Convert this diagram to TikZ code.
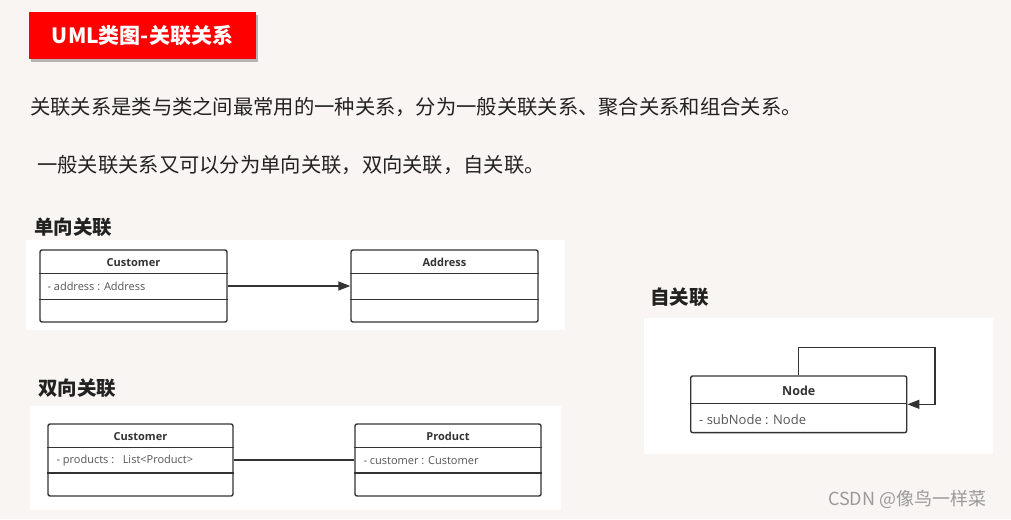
\documentclass[tikz,border=0pt]{standalone}
\usepackage{fontspec}
\setmainfont{Open Sans}
\newfontfamily\cjk{Noto Sans CJK SC}
\usetikzlibrary{arrows.meta,calc,shadows}
\definecolor{bg}{HTML}{F9F5F2}
\definecolor{linec}{HTML}{333333}
\definecolor{attrc}{HTML}{555555}
\definecolor{txtc}{HTML}{222222}
\definecolor{wm}{HTML}{9A9A9A}
\tikzset{
  panel/.style={fill=white, draw=none},
  classbox/.style={draw=linec, line width=1.4pt, rounded corners=2pt, fill=white, inner sep=0pt},
  divider/.style={draw=linec, line width=1.4pt},
  clsname/.style={font=\bfseries\fontsize{11}{13}\selectfont, text=linec, inner sep=0pt},
  attr/.style={font=\fontsize{11}{13}\selectfont, text=attrc, inner sep=0pt, anchor=west},
  bodytext/.style={font=\cjk\fontsize{20.3}{24}\selectfont, text=txtc, inner sep=0pt, anchor=west},
  heading/.style={font=\cjk\bfseries\fontsize{19.5}{23}\selectfont, text=txtc, inner sep=0pt, anchor=west},
  assoc/.style={draw=linec, line width=1.3pt},
  tip/.style={-{Triangle[length=12pt,width=9pt]}}
}
\begin{document}
\begin{tikzpicture}[x=1pt,y=-1pt]
\useasboundingbox (0,0) rectangle (1011,519);
\fill[bg] (0,0) rectangle (1011,519);

% title
\node[fill=red, minimum width=227pt, minimum height=47pt, inner sep=0pt,
      drop shadow={shadow xshift=2pt, shadow yshift=-3pt, opacity=0.45, fill=black!60}]
      (title) at (142.5,35.5) {};
\node[font=\cjk\bfseries\fontsize{21}{24}\selectfont, text=white, inner sep=0pt] (titletext) at (title.center) {UML类图-关联关系};

% body text
\node[bodytext] (line1) at (30,107) {关联关系是类与类之间最常用的一种关系，分为一般关联关系、聚合关系和组合关系。};
\node[bodytext] (line2) at (37,165) {一般关联关系又可以分为单向关联，双向关联，自关联。};

% panels
\fill[panel] (26,240) rectangle (565,330);
\fill[panel] (30,406) rectangle (561,510);
\fill[panel] (644,318) rectangle (993,454);

% headings
\node[heading] (h1) at (34,227) {单向关联};
\node[heading] (h2) at (38,388) {双向关联};
\node[heading] (h3) at (650,297) {自关联};

% ---- single direction
\node[classbox, minimum width=187pt, minimum height=72pt] (c1) at (133.5,286) {};
\draw[divider] ($(c1.north west)+(0,24)$) -- ($(c1.north east)+(0,24)$);
\draw[divider] ($(c1.north west)+(0,50)$) -- ($(c1.north east)+(0,50)$);
\node[clsname] (c1name) at ($(c1.north)+(0,13.5)$) {Customer};
\node[attr] (c1attr) at ($(c1.north west)+(8,37.5)$) {- address : Address};

\node[classbox, minimum width=187pt, minimum height=72pt] (a1) at (444.5,286) {};
\draw[divider] ($(a1.north west)+(0,24)$) -- ($(a1.north east)+(0,24)$);
\draw[divider] ($(a1.north west)+(0,50)$) -- ($(a1.north east)+(0,50)$);
\node[clsname] (a1name) at ($(a1.north)+(0,13.5)$) {Address};

\draw[assoc, tip] (c1.east) -- (a1.west);

% ---- bidirectional
\node[classbox, minimum width=185pt, minimum height=72pt] (c2) at (140.5,460) {};
\draw[divider] ($(c2.north west)+(0,24)$) -- ($(c2.north east)+(0,24)$);
\draw[divider] ($(c2.north west)+(0,49.5)$) -- ($(c2.north east)+(0,49.5)$);
\node[clsname] (c2name) at ($(c2.north)+(0,13.5)$) {Customer};
\node[attr] (c2attr) at ($(c2.north west)+(9,37.5)$) {- products :\ \ \ List<Product>};

\node[classbox, minimum width=186pt, minimum height=72pt] (p2) at (448,460) {};
\draw[divider] ($(p2.north west)+(0,24)$) -- ($(p2.north east)+(0,24)$);
\draw[divider] ($(p2.north west)+(0,49.5)$) -- ($(p2.north east)+(0,49.5)$);
\node[clsname] (p2name) at ($(p2.north)+(0,13.5)$) {Product};
\node[attr] (p2attr) at ($(p2.north west)+(9,37.5)$) {- customer : Customer};

\draw[assoc] (c2.east) -- (p2.west);

% ---- self association
\node[classbox, minimum width=216pt, minimum height=56.7pt] (n) at (798.7,404.3) {};
\draw[divider] ($(n.north west)+(0,28.3)$) -- ($(n.north east)+(0,28.3)$);
\node[clsname, font=\bfseries\fontsize{12.5}{14}\selectfont] (nname) at ($(n.north)+(0,15.5)$) {Node};
\node[attr, font=\fontsize{13}{15}\selectfont] (nattr) at ($(n.north west)+(9,44)$) {- subNode : Node};
\coordinate (loopcorner) at (935,347.7);
\draw[assoc, tip] (n.north) |- (loopcorner) |- (n.east);

% watermark
\node[font=\cjk\fontsize{18}{20}\selectfont, text=wm, inner sep=0pt, anchor=west] (wmark) at (828,499) {CSDN @像鸟一样菜};
\end{tikzpicture}
\end{document}
